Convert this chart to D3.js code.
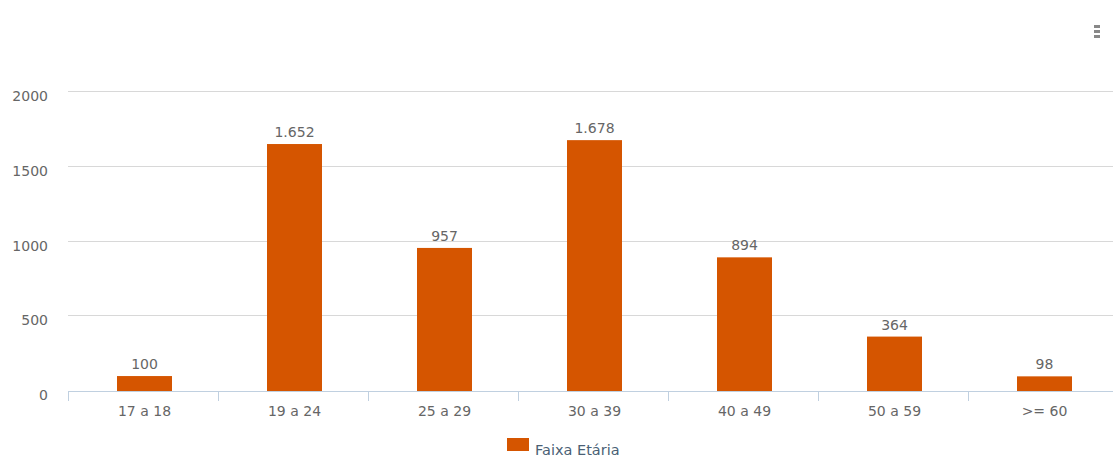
<!DOCTYPE html>
<html>
<head>
<meta charset="utf-8">
<script src="https://cdn.jsdelivr.net/npm/d3@7"></script>
<style>
  html, body { margin: 0; padding: 0; background: #fff; }
  svg { display: block; font-family: "DejaVu Sans", Verdana, sans-serif; }
</style>
</head>
<body>
<svg id="chart" width="1113" height="459"></svg>
<script>
// Age groups and counts
const categories = ["17 a 18", "19 a 24", "25 a 29", "30 a 39", "40 a 49", "50 a 59", ">= 60"];
const values = [100, 1652, 957, 1678, 894, 364, 98];
const yTicks = [0, 500, 1000, 1500, 2000];
const seriesName = "Faixa Etária";

const svg = d3.select("#chart");
const plotLeft = 68, plotRight = 1118, plotTop = 92, plotBottom = 391;
const textColor = "#666666";

// Category bands (axis ticks sit on band edges); bars are centred in each band
const x = d3.scaleBand().domain(categories).range([plotLeft, plotRight]);
const barWidth = 55;
const barX = d => x(d) + (x.bandwidth() - barWidth) / 2 + 1.5;
const y = d3.scaleLinear().domain([0, 2000]).range([plotBottom, plotTop]);

const fmt = v => d3.format(",")(v).replace(/,/g, ".");

// Horizontal grid lines
svg.append("g").selectAll("line").data(yTicks.filter(d => d > 0)).join("line")
  .attr("x1", plotLeft).attr("x2", 1113)
  .attr("y1", d => Math.round(y(d)) - 0.5).attr("y2", d => Math.round(y(d)) - 0.5)
  .attr("stroke", "#d8d8d8").attr("stroke-width", 1);

// Y axis labels
svg.append("g").selectAll("text").data(yTicks).join("text")
  .attr("x", 48).attr("y", d => y(d) + 9)
  .attr("text-anchor", "end").attr("font-size", 14).attr("fill", textColor)
  .text(d => d);

// Bars
svg.append("g").selectAll("rect").data(values).join("rect")
  .attr("x", (d, i) => barX(categories[i]))
  .attr("width", barWidth)
  .attr("y", d => y(d))
  .attr("height", d => plotBottom - y(d))
  .attr("fill", "#d55500");

// Value labels
svg.append("g").selectAll("text").data(values).join("text")
  .attr("x", (d, i) => barX(categories[i]) + barWidth / 2)
  .attr("y", d => y(d) - 7)
  .attr("text-anchor", "middle").attr("font-size", 14).attr("fill", textColor)
  .text(d => fmt(d));

// X axis line and ticks
const step = x.step();
svg.append("line").attr("x1", plotLeft).attr("x2", 1113)
  .attr("y1", plotBottom + 0.5).attr("y2", plotBottom + 0.5)
  .attr("stroke", "#c0d0e0").attr("stroke-width", 1);
svg.append("g").selectAll("line").data(d3.range(categories.length + 1)).join("line")
  .attr("x1", i => Math.round(plotLeft + i * step) + 0.5).attr("x2", i => Math.round(plotLeft + i * step) + 0.5)
  .attr("y1", plotBottom).attr("y2", plotBottom + 10)
  .attr("stroke", "#c0d0e0").attr("stroke-width", 1);

// Category labels
svg.append("g").selectAll("text").data(categories).join("text")
  .attr("x", d => barX(d) + barWidth / 2)
  .attr("y", 416)
  .attr("text-anchor", "middle").attr("font-size", 14).attr("fill", textColor)
  .text(d => d);

// Legend
const legend = svg.append("g");
legend.append("rect").attr("x", 507).attr("y", 438).attr("width", 22).attr("height", 13).attr("fill", "#d55500");
legend.append("text").attr("x", 535).attr("y", 455).attr("font-size", 14.5).attr("fill", "#4a5f75").text(seriesName);

// Export menu icon
svg.append("g").selectAll("rect").data([0, 1, 2]).join("rect")
  .attr("x", 1094).attr("y", i => 25 + i * 5).attr("width", 6).attr("height", 3)
  .attr("fill", "#888");
</script>
</body>
</html>
